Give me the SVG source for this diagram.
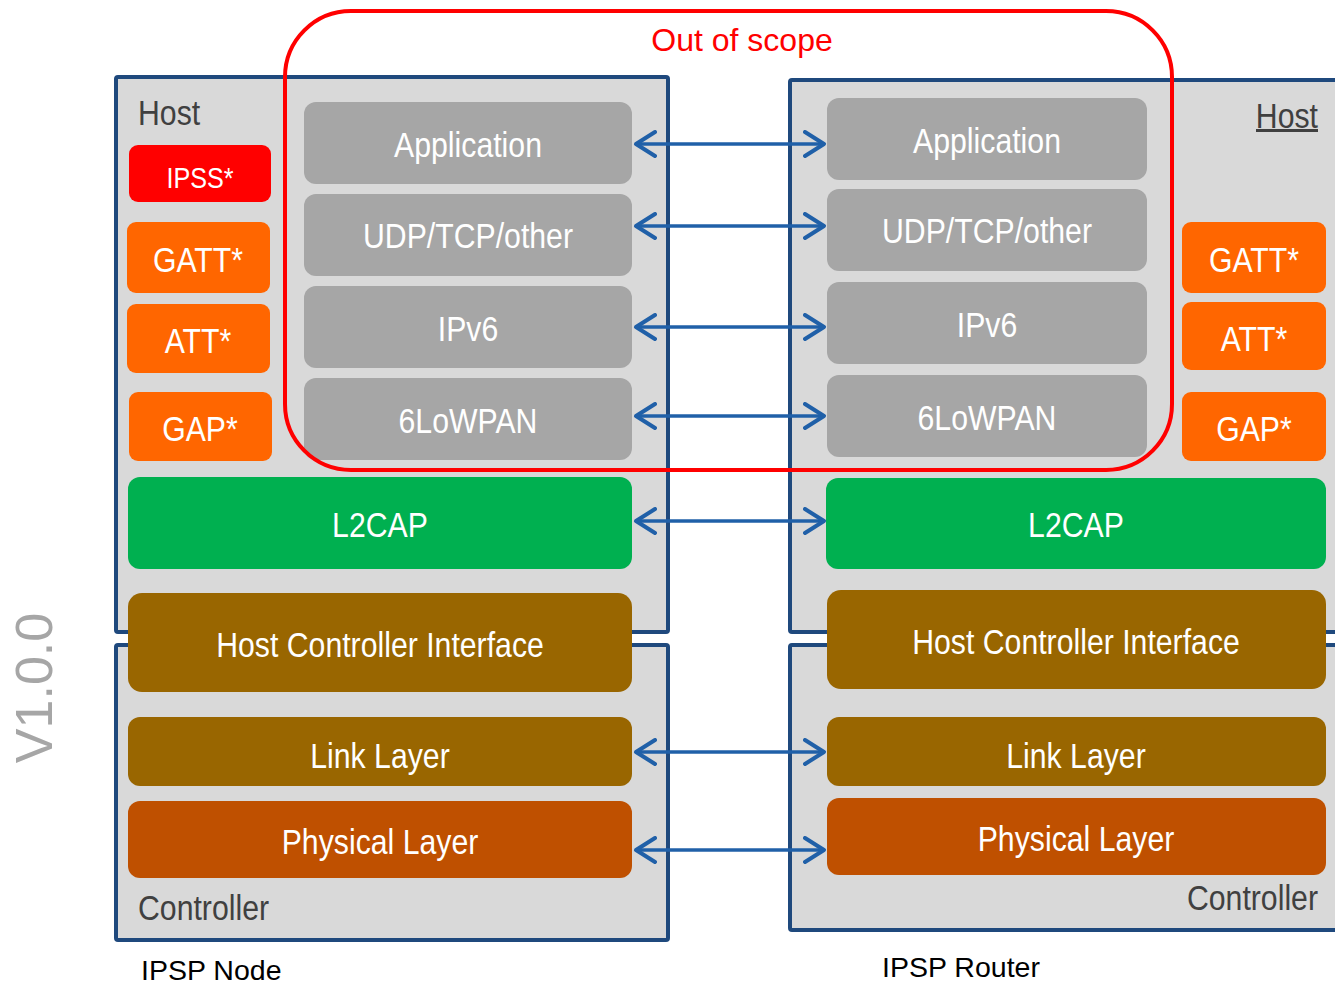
<svg xmlns="http://www.w3.org/2000/svg" width="1335" height="985" viewBox="0 0 1335 985">
<style>
.frame{fill:#D9D9D9;stroke:#1F497D;stroke-width:4}
.lay{fill:#A6A6A6}
.t{font-family:"Liberation Sans",Arial,sans-serif;fill:#FFFFFF;text-anchor:middle;font-size:36px}
.lbl{font-family:"Liberation Sans",Arial,sans-serif;fill:#404040;font-size:36px}
.cap{font-family:"Liberation Sans",Arial,sans-serif;fill:#000000;font-size:28.5px}
.arr{stroke:#2060A8;stroke-width:3.5;fill:none;marker-start:url(#ah);marker-end:url(#ah)}
</style>
<defs>
<marker id="ah" viewBox="0 0 24 28" refX="21" refY="14" markerWidth="24" markerHeight="28" markerUnits="userSpaceOnUse" orient="auto-start-reverse">
<path d="M2,2 L21,14 L2,26" fill="none" stroke="#2060A8" stroke-width="4" stroke-linecap="round" stroke-linejoin="round"/>
</marker>
</defs>
<rect width="1335" height="985" fill="#FFFFFF"/>

<g id="frames">
<rect class="frame" x="116" y="77" width="552" height="555" rx="2"/>
<rect class="frame" x="116" y="645" width="552" height="295" rx="2"/>
<rect class="frame" x="790" y="80" width="560" height="552" rx="2"/>
<rect class="frame" x="790" y="645" width="560" height="285" rx="2"/>
</g>

<g id="labels">
<text class="lbl" transform="translate(138 125) scale(0.84 1)">Host</text>
<text class="lbl" transform="translate(1318 128) scale(0.84 1)" text-anchor="end">Host</text>
<rect x="1256" y="129" width="62" height="3" fill="#404040"/>
<text class="lbl" transform="translate(138 920) scale(0.84 1)">Controller</text>
<text class="lbl" transform="translate(1318 910) scale(0.84 1)" text-anchor="end">Controller</text>
<text x="52" y="688" transform="rotate(-90 52 688)" text-anchor="middle" font-family="'Liberation Sans',Arial,sans-serif" font-size="52" fill="#A6A6A6">V1.0.0</text>
<text class="cap" x="141" y="980">IPSP Node</text>
<text class="cap" x="882" y="977">IPSP Router</text>
</g>

<g id="node-left">
<g id="l-ipss"><rect x="129" y="145" width="142" height="57" rx="9" fill="#FF0000"/><text class="t" transform="translate(200 188) scale(0.84 1)" style="font-size:30px">IPSS*</text></g>
<g id="l-gatt"><rect x="127" y="222" width="143" height="71" rx="9" fill="#FF6600"/><text class="t" transform="translate(198 272) scale(0.84 1)">GATT*</text></g>
<g id="l-att"><rect x="127" y="304" width="143" height="69" rx="9" fill="#FF6600"/><text class="t" transform="translate(198 353) scale(0.84 1)">ATT*</text></g>
<g id="l-gap"><rect x="129" y="392" width="143" height="69" rx="9" fill="#FF6600"/><text class="t" transform="translate(200 441) scale(0.84 1)">GAP*</text></g>
<g id="l-app"><rect class="lay" x="304" y="102" width="328" height="82" rx="12"/><text class="t" transform="translate(468 157) scale(0.84 1)">Application</text></g>
<g id="l-udp"><rect class="lay" x="304" y="194" width="328" height="82" rx="12"/><text class="t" transform="translate(468 248) scale(0.84 1)">UDP/TCP/other</text></g>
<g id="l-ipv6"><rect class="lay" x="304" y="286" width="328" height="82" rx="12"/><text class="t" transform="translate(468 341) scale(0.84 1)">IPv6</text></g>
<g id="l-6lo"><rect class="lay" x="304" y="378" width="328" height="82" rx="12"/><text class="t" transform="translate(468 433) scale(0.84 1)">6LoWPAN</text></g>
<g id="l-l2cap"><rect x="128" y="477" width="504" height="92" rx="12" fill="#00B050"/><text class="t" transform="translate(380 537) scale(0.84 1)">L2CAP</text></g>
<g id="l-hci"><rect x="128" y="593" width="504" height="99" rx="14" fill="#996600"/><text class="t" transform="translate(380 657) scale(0.84 1)">Host Controller Interface</text></g>
<g id="l-ll"><rect x="128" y="717" width="504" height="69" rx="12" fill="#996600"/><text class="t" transform="translate(380 768) scale(0.84 1)">Link Layer</text></g>
<g id="l-phy"><rect x="128" y="801" width="504" height="77" rx="12" fill="#BF5000"/><text class="t" transform="translate(380 854) scale(0.84 1)">Physical Layer</text></g>
</g>

<g id="node-right">
<g id="r-gatt"><rect x="1182" y="222" width="144" height="71" rx="9" fill="#FF6600"/><text class="t" transform="translate(1254 272) scale(0.84 1)">GATT*</text></g>
<g id="r-att"><rect x="1182" y="302" width="144" height="68" rx="9" fill="#FF6600"/><text class="t" transform="translate(1254 351) scale(0.84 1)">ATT*</text></g>
<g id="r-gap"><rect x="1182" y="392" width="144" height="69" rx="9" fill="#FF6600"/><text class="t" transform="translate(1254 441) scale(0.84 1)">GAP*</text></g>
<g id="r-app"><rect class="lay" x="827" y="98" width="320" height="82" rx="12"/><text class="t" transform="translate(987 153) scale(0.84 1)">Application</text></g>
<g id="r-udp"><rect class="lay" x="827" y="189" width="320" height="82" rx="12"/><text class="t" transform="translate(987 243) scale(0.84 1)">UDP/TCP/other</text></g>
<g id="r-ipv6"><rect class="lay" x="827" y="282" width="320" height="82" rx="12"/><text class="t" transform="translate(987 337) scale(0.84 1)">IPv6</text></g>
<g id="r-6lo"><rect class="lay" x="827" y="375" width="320" height="82" rx="12"/><text class="t" transform="translate(987 430) scale(0.84 1)">6LoWPAN</text></g>
<g id="r-l2cap"><rect x="826" y="478" width="500" height="91" rx="12" fill="#00B050"/><text class="t" transform="translate(1076 537) scale(0.84 1)">L2CAP</text></g>
<g id="r-hci"><rect x="827" y="590" width="499" height="99" rx="14" fill="#996600"/><text class="t" transform="translate(1076 654) scale(0.84 1)">Host Controller Interface</text></g>
<g id="r-ll"><rect x="827" y="717" width="499" height="69" rx="12" fill="#996600"/><text class="t" transform="translate(1076 768) scale(0.84 1)">Link Layer</text></g>
<g id="r-phy"><rect x="827" y="798" width="499" height="77" rx="12" fill="#BF5000"/><text class="t" transform="translate(1076 851) scale(0.84 1)">Physical Layer</text></g>
</g>

<g id="connectors">
<line class="arr" x1="636" y1="144" x2="824" y2="144"/>
<line class="arr" x1="636" y1="226" x2="824" y2="226"/>
<line class="arr" x1="636" y1="327" x2="824" y2="327"/>
<line class="arr" x1="636" y1="416" x2="824" y2="416"/>
<line class="arr" x1="636" y1="521" x2="824" y2="521"/>
<line class="arr" x1="636" y1="752" x2="824" y2="752"/>
<line class="arr" x1="636" y1="850" x2="824" y2="850"/>
</g>

<g id="scope">
<rect x="285" y="11" width="887" height="459" rx="66" fill="none" stroke="#FF0000" stroke-width="4"/>
<text x="742" y="51" text-anchor="middle" font-family="'Liberation Sans',Arial,sans-serif" font-size="32" fill="#FF0000">Out of scope</text>
</g>
</svg>
